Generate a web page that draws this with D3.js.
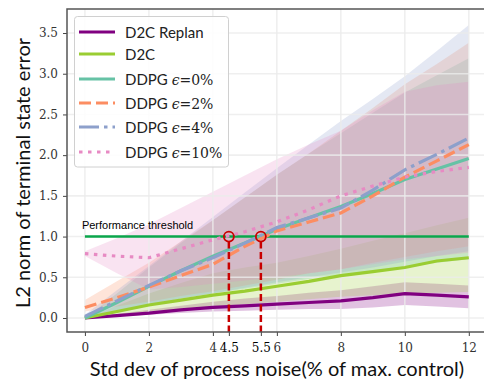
<!DOCTYPE html>
<html>
<head>
<meta charset="utf-8">
<script src="https://cdn.jsdelivr.net/npm/d3@7"></script>
<style>
  body { margin: 0; background: #fff; }
  svg { display: block; }
</style>
</head>
<body>
<svg id="chart" width="484" height="383"></svg>
<script>
// Noise levels (% of max. control)
const noise = [0, 1, 2, 3, 4, 5, 6, 7, 8, 9, 10, 11, 12];

// Mean L2 terminal error per method, with lower / upper band edges
const d2cReplan   = [0.00, 0.03, 0.06, 0.10, 0.13, 0.15, 0.17, 0.19, 0.21, 0.25, 0.30, 0.28, 0.26];
const d2cReplanLo = [0.00, 0.02, 0.04, 0.06, 0.08, 0.09, 0.10, 0.11, 0.11, 0.13, 0.16, 0.14, 0.12];
const d2cReplanHi = [0.00, 0.05, 0.10, 0.15, 0.20, 0.24, 0.27, 0.31, 0.34, 0.39, 0.44, 0.42, 0.40];

const d2c   = [0.00, 0.08, 0.16, 0.22, 0.28, 0.33, 0.39, 0.45, 0.52, 0.57, 0.62, 0.70, 0.74];
const d2cLo = [0.00, 0.04, 0.08, 0.11, 0.14, 0.17, 0.20, 0.23, 0.26, 0.28, 0.30, 0.31, 0.32];
const d2cHi = [0.00, 0.15, 0.30, 0.43, 0.55, 0.62, 0.68, 0.76, 0.85, 0.95, 1.04, 1.14, 1.23];

const ddpg0   = [0.00, 0.19, 0.39, 0.58, 0.76, 0.92, 1.09, 1.23, 1.37, 1.53, 1.70, 1.83, 1.96];
const ddpg0Lo = [0.00, 0.08, 0.16, 0.24, 0.30, 0.36, 0.42, 0.48, 0.53, 0.58, 0.63, 0.68, 0.72];
const ddpg0Hi = [0.00, 0.30, 0.62, 0.92, 1.20, 1.48, 1.76, 2.02, 2.27, 2.52, 2.77, 2.98, 3.19];

const ddpg2   = [0.13, 0.25, 0.38, 0.52, 0.66, 0.88, 1.07, 1.18, 1.29, 1.50, 1.73, 1.93, 2.13];
const ddpg2Lo = [0.08, 0.14, 0.20, 0.27, 0.33, 0.40, 0.47, 0.55, 0.60, 0.68, 0.75, 0.82, 0.88];
const ddpg2Hi = [0.22, 0.45, 0.68, 0.94, 1.20, 1.48, 1.76, 2.02, 2.30, 2.58, 2.87, 3.12, 3.38];

const ddpg4   = [0.02, 0.21, 0.40, 0.58, 0.74, 0.92, 1.11, 1.23, 1.35, 1.57, 1.82, 2.01, 2.21];
const ddpg4Lo = [0.00, 0.08, 0.16, 0.24, 0.30, 0.37, 0.44, 0.50, 0.56, 0.62, 0.69, 0.76, 0.82];
const ddpg4Hi = [0.04, 0.34, 0.64, 0.94, 1.24, 1.54, 1.84, 2.13, 2.42, 2.69, 2.97, 3.28, 3.60];

const ddpg10   = [0.79, 0.76, 0.74, 0.85, 0.96, 1.06, 1.18, 1.33, 1.50, 1.62, 1.73, 1.80, 1.85];
const ddpg10Lo = [0.76, 0.55, 0.35, 0.38, 0.42, 0.46, 0.50, 0.55, 0.60, 0.66, 0.72, 0.76, 0.80];
const ddpg10Hi = [0.82, 0.98, 1.15, 1.35, 1.55, 1.75, 1.95, 2.13, 2.30, 2.55, 2.78, 2.86, 2.90];

// Axis ticks
const xTicks = [0, 2, 4, 4.5, 5.5, 6, 8, 10, 12];
const xTickLabels = ["0", "2", "4", "4.5", "5.5", "6", "8", "10", "12"];
const yTicks = [0, 0.5, 1, 1.5, 2, 2.5, 3, 3.5];
const yTickLabels = ["0.0", "0.5", "1.0", "1.5", "2.0", "2.5", "3.0", "3.5"];

// Threshold and its crossing points
const threshold = 1.0;
const crossings = [4.5, 5.5];

const series = [
  { name: "D2C Replan", eps: null,  mean: d2cReplan, lo: d2cReplanLo, hi: d2cReplanHi, color: "#800080", dash: null },
  { name: "D2C",        eps: null,  mean: d2c,       lo: d2cLo,       hi: d2cHi,       color: "#9acd32", dash: null },
  { name: "DDPG ",      eps: "0%",  mean: ddpg0,     lo: ddpg0Lo,     hi: ddpg0Hi,     color: "#66c2a5", dash: null },
  { name: "DDPG ",      eps: "2%",  mean: ddpg2,     lo: ddpg2Lo,     hi: ddpg2Hi,     color: "#fc8d62", dash: "12,5" },
  { name: "DDPG ",      eps: "4%",  mean: ddpg4,     lo: ddpg4Lo,     hi: ddpg4Hi,     color: "#8da0cb", dash: "20,5,3.5,5" },
  { name: "DDPG ",      eps: "10%", mean: ddpg10,    lo: ddpg10Lo,    hi: ddpg10Hi,    color: "#e78ac3", dash: "3.5,5.5" }
];

const svg = d3.select("#chart");
const plotLeft = 67, plotRight = 488, plotTop = 9, plotBottom = 332;

const x = d3.scaleLinear().domain([-0.56, 12.6]).range([plotLeft, plotRight]);
const y = d3.scaleLinear().domain([-0.172, 3.795]).range([plotBottom, plotTop]);

// Bands
const area = (s) => d3.area()
  .x((d, i) => x(noise[i]))
  .y0((d, i) => y(s.lo[i]))
  .y1((d, i) => y(s.hi[i]));
const bands = svg.append("g");
series.forEach(s => {
  bands.append("path").datum(s.mean)
    .attr("d", area(s))
    .attr("fill", s.color)
    .attr("fill-opacity", 0.24);
});

// Grid (over the bands, under the lines)
const grid = svg.append("g");
grid.selectAll("line.gx").data([0, 2, 4, 6, 8, 10, 12]).join("line")
  .attr("class", "gx")
  .attr("x1", d => x(d)).attr("x2", d => x(d))
  .attr("y1", plotTop).attr("y2", plotBottom)
  .attr("stroke", "#ebebeb").attr("stroke-opacity", 0.8).attr("stroke-width", 1.6);
grid.selectAll("line.gy").data(yTicks).join("line")
  .attr("class", "gy")
  .attr("x1", plotLeft).attr("x2", plotRight)
  .attr("y1", d => y(d)).attr("y2", d => y(d))
  .attr("stroke", "#ebebeb").attr("stroke-opacity", 0.8).attr("stroke-width", 1.6);

// Threshold line and label
svg.append("line")
  .attr("x1", x(0)).attr("x2", x(12))
  .attr("y1", y(threshold)).attr("y2", y(threshold))
  .attr("stroke", "#0aa64b").attr("stroke-width", 2.5);
svg.append("text")
  .attr("x", x(0) - 3).attr("y", y(threshold) - 8)
  .attr("font-family", "Liberation Sans, Arial, sans-serif")
  .attr("font-size", 11).attr("fill", "#000")
  .text("Performance threshold");

// Mean lines
const line = d3.line().x((d, i) => x(noise[i])).y(d => y(d));
const lines = svg.append("g");
series.forEach(s => {
  lines.append("path").datum(s.mean)
    .attr("d", line)
    .attr("fill", "none")
    .attr("stroke", s.color)
    .attr("stroke-width", 3.2)
    .attr("stroke-dasharray", s.dash);
});

// Crossing markers
svg.selectAll("line.cross").data(crossings).join("line")
  .attr("class", "cross")
  .attr("x1", d => x(d)).attr("x2", d => x(d))
  .attr("y1", y(threshold) + 5).attr("y2", plotBottom)
  .attr("stroke", "#c80000").attr("stroke-width", 2.5)
  .attr("stroke-dasharray", "7,3.5");
svg.selectAll("circle.cross").data(crossings).join("circle")
  .attr("class", "cross")
  .attr("cx", d => x(d)).attr("cy", y(threshold)).attr("r", 5)
  .attr("fill", "none").attr("stroke", "#c80000").attr("stroke-width", 1.8);

// Axes
const xAxis = svg.append("g").attr("transform", `translate(0,${plotBottom})`)
  .call(d3.axisBottom(x).tickValues(xTicks).tickSize(4).tickPadding(7).tickSizeOuter(0)
    .tickFormat((d, i) => xTickLabels[i]));
const yAxis = svg.append("g").attr("transform", `translate(${plotLeft},0)`)
  .call(d3.axisLeft(y).tickValues(yTicks).tickSize(4).tickPadding(5).tickSizeOuter(0)
    .tickFormat((d, i) => yTickLabels[i]));
[xAxis, yAxis].forEach(a => {
  a.select(".domain").remove();
  a.selectAll(".tick line").attr("stroke", "#444").attr("stroke-width", 1);
  a.selectAll(".tick text").attr("font-family", "DejaVu Serif, serif").attr("font-size", 12).attr("fill", "#333");
});
xAxis.selectAll(".tick text").filter(d => d === 4.5 || d === 5.5).attr("fill", "#000");

// Spines
svg.append("path")
  .attr("d", `M${plotRight},${plotTop}H${plotLeft}V${plotBottom}H${plotRight}`)
  .attr("fill", "none").attr("stroke", "#555").attr("stroke-width", 1.5);

// Axis titles
svg.append("text")
  .attr("x", 277).attr("y", 376)
  .attr("text-anchor", "middle")
  .attr("font-family", "Lato, sans-serif").attr("font-size", 20).attr("fill", "#111")
  .text("Std dev of process noise(% of max. control)");
svg.append("text")
  .attr("transform", "translate(30,173) rotate(-90)")
  .attr("text-anchor", "middle")
  .attr("font-family", "Lato, sans-serif").attr("font-size", 20).attr("fill", "#111")
  .text("L2 norm of terminal state error");

// Legend
const legend = svg.append("g");
legend.append("rect")
  .attr("x", 74.5).attr("y", 16.5).attr("width", 154).attr("height", 150.5)
  .attr("rx", 3).attr("fill", "#fff").attr("fill-opacity", 0.85)
  .attr("stroke", "#d0d0d0").attr("stroke-width", 1);
const rowY = [32, 54, 79, 103, 127, 152];
series.forEach((s, i) => {
  legend.append("line")
    .attr("x1", 79).attr("x2", 115)
    .attr("y1", rowY[i]).attr("y2", rowY[i])
    .attr("stroke", s.color).attr("stroke-width", 3.2)
    .attr("stroke-dasharray", s.dash);
  const t = legend.append("text")
    .attr("x", 125).attr("y", rowY[i] + 5.5)
    .attr("font-family", "Lato, sans-serif").attr("font-size", 15).attr("fill", "#222");
  t.append("tspan").text(s.name);
  if (s.eps) {
    t.append("tspan").attr("font-family", "DejaVu Serif, serif").attr("font-style", "italic")
      .attr("font-size", 14).text("\u03F5");
    t.append("tspan").attr("font-family", "DejaVu Serif, serif").attr("font-size", 14)
      .text("=" + s.eps);
  }
});
</script>
</body>
</html>
